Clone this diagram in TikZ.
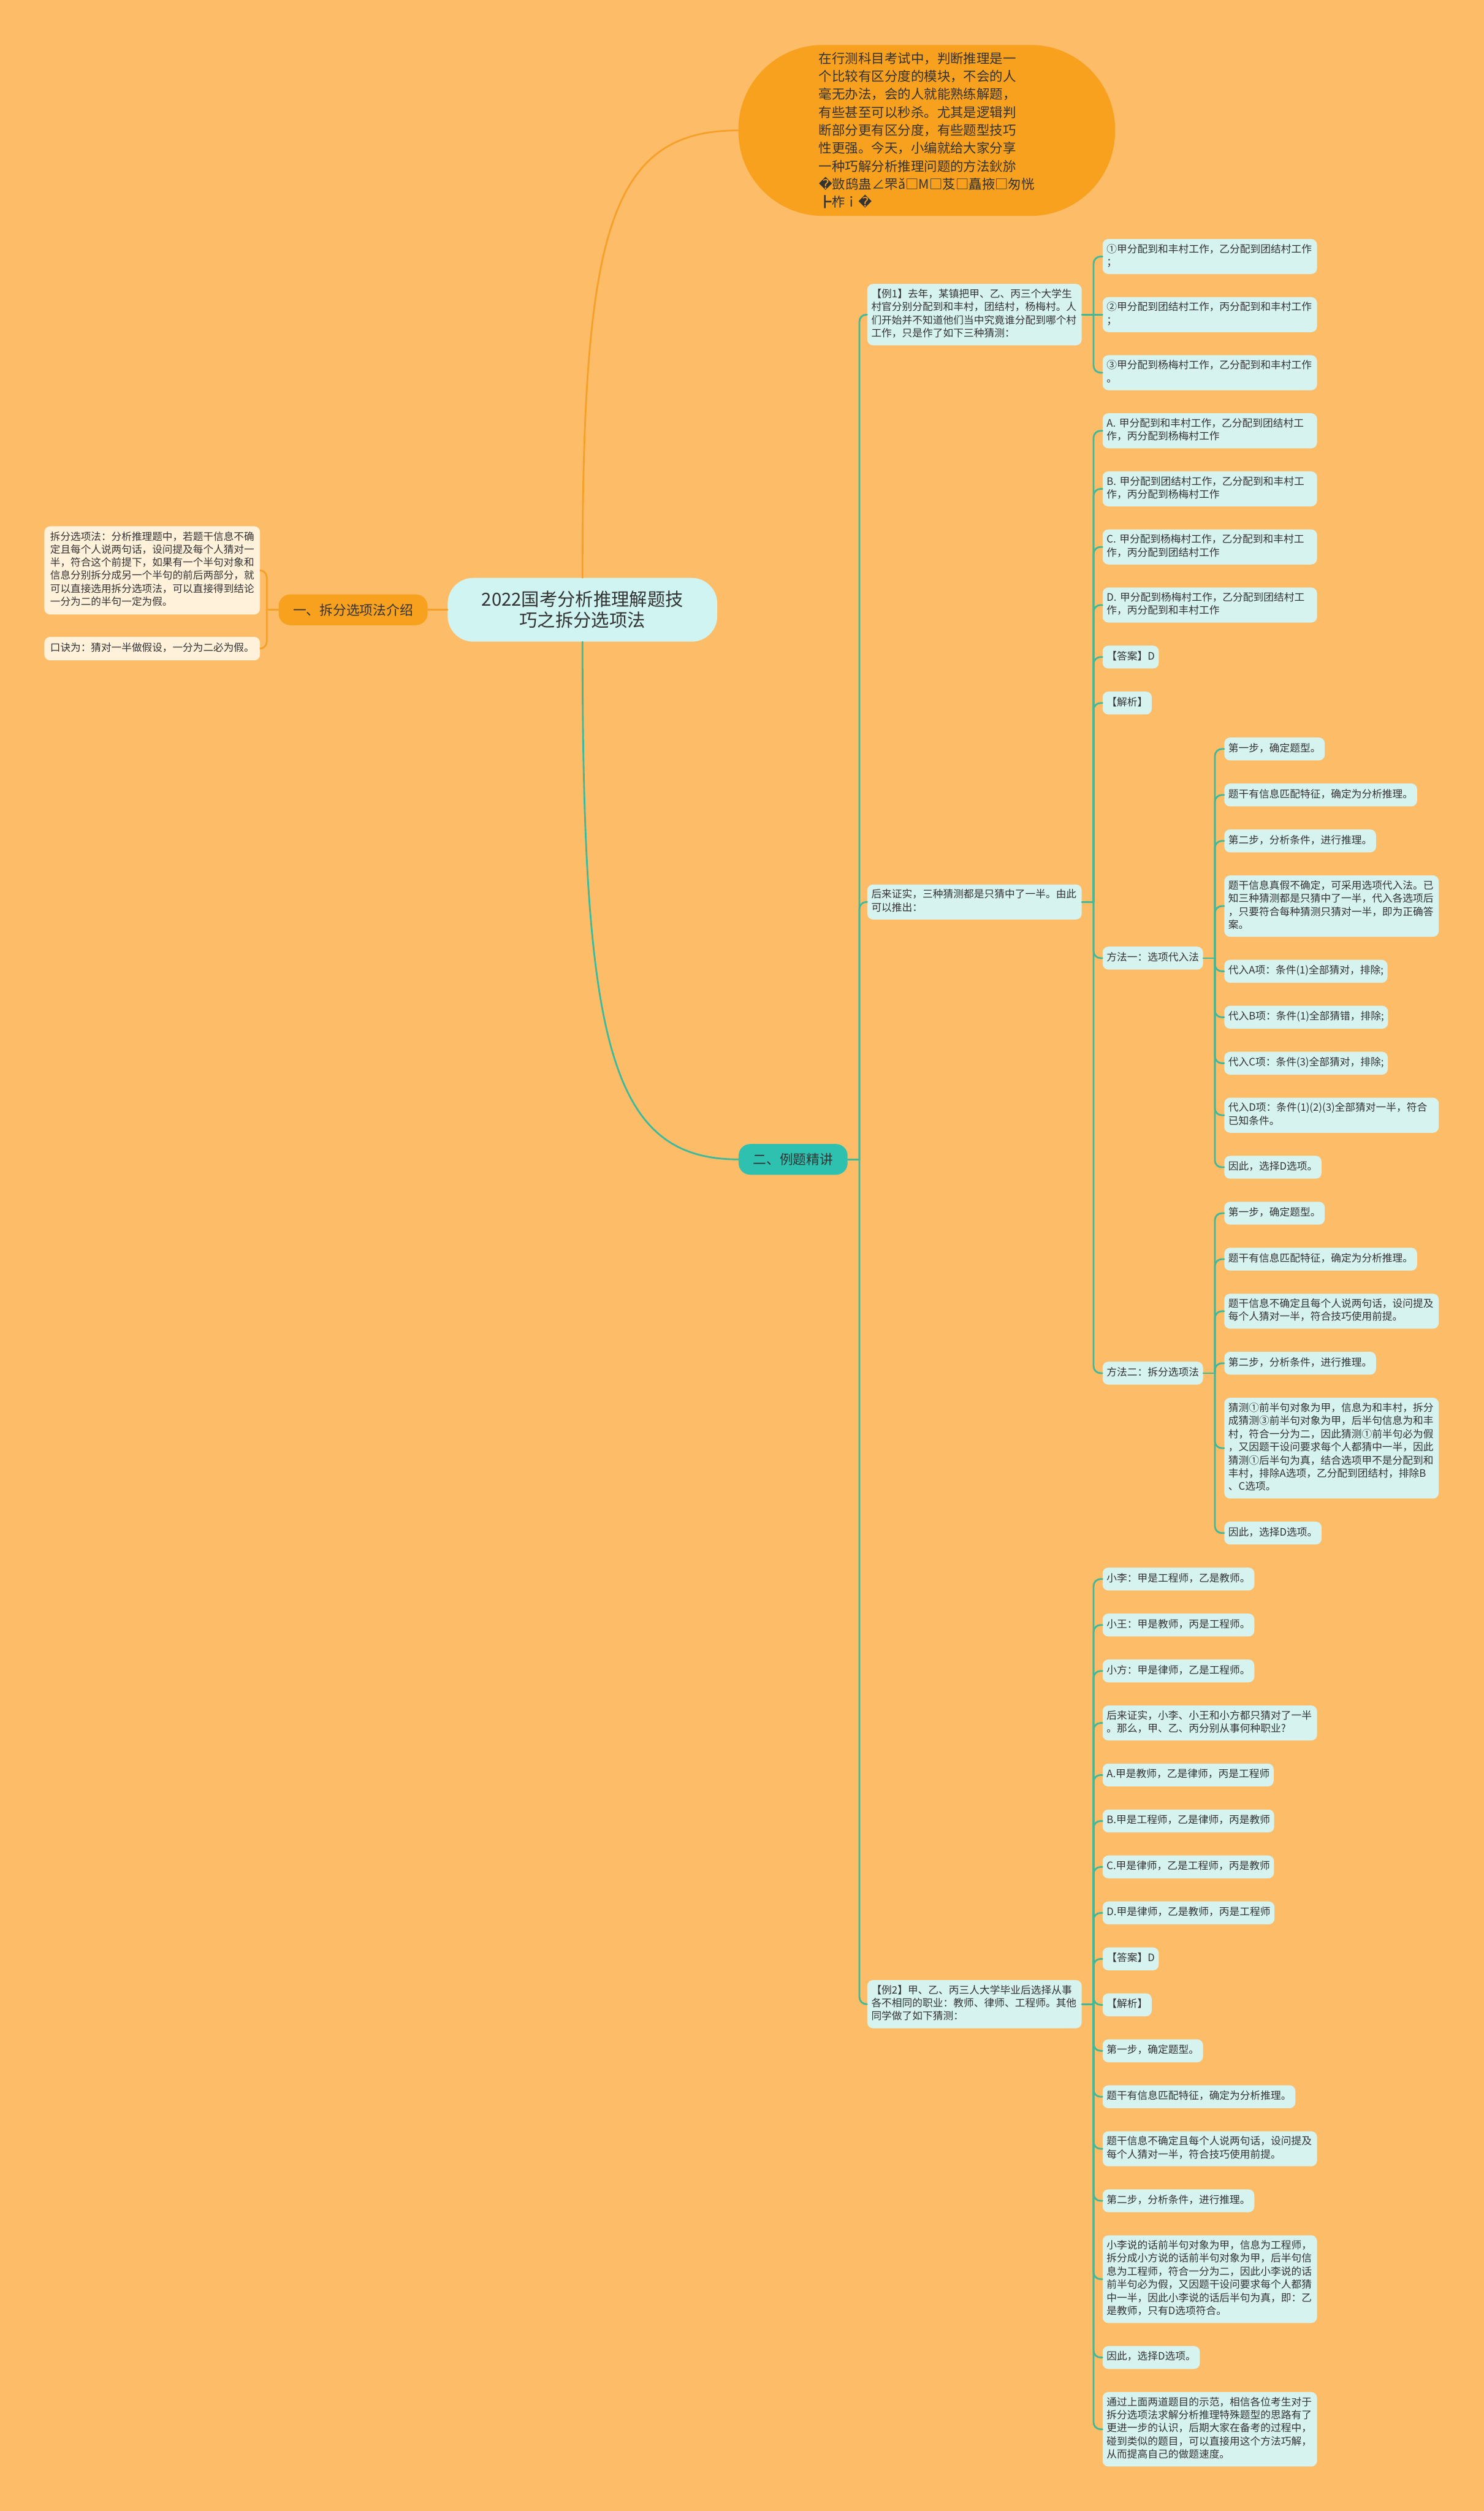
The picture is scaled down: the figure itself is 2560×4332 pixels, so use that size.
\documentclass[tikz,border=0pt]{standalone}
\usepackage{fontspec}
\setmainfont{Noto Sans CJK SC}
\newfontfamily\dejavu{DejaVu Sans}
\usetikzlibrary{positioning,calc}
\definecolor{pagebg}{HTML}{FDBD68}
\definecolor{deeporange}{HTML}{F8A11F}
\definecolor{rootcyan}{HTML}{CFF4F1}
\definecolor{branchteal}{HTML}{2EC1B0}
\definecolor{leafcyan}{HTML}{D6F3F0}
\definecolor{leafcream}{HTML}{FFF1DA}
\definecolor{linkteal}{HTML}{3FB99C}
\definecolor{linkorange}{HTML}{F6A02A}
\definecolor{inkgray}{HTML}{333333}
\newcommand\leafsize{\fontsize{8.85pt}{11.35pt}\selectfont}
\newcommand\notesize{\fontsize{8.8pt}{11.25pt}\selectfont}
\newcommand\branchsize{\fontsize{11.5pt}{14pt}\selectfont}
\newcommand\rootsize{\fontsize{15.5pt}{18pt}\selectfont}
\newcommand\bubblesize{\fontsize{11.35pt}{15.5pt}\selectfont}
\newcommand\badglyph{{\dejavu\char"FFFD}}
\tikzset{
  leafbox/.style={rectangle, rounded corners=5pt, fill=leafcyan, text=inkgray,
    font=\leafsize, align=left, inner xsep=3.5pt, inner ysep=4.2pt,
    execute at begin node=\strut, execute at end node=\strut},
  wrapbox/.style={leafbox, text width=178pt, inner ysep=3.75pt},
  notebox/.style={leafbox, fill=leafcream, font=\notesize,
    inner xsep=5pt, inner ysep=4.5pt},
  stackbelow/.style={below=19.5pt of #1.south west, anchor=north west},
  branchbox/.style={rectangle, rounded corners=10pt, text=inkgray,
    font=\branchsize, inner xsep=12.5pt, minimum height=26.5pt},
  rootbox/.style={rectangle, rounded corners=22pt, fill=rootcyan, text=inkgray,
    font=\rootsize, align=center, minimum width=232.5pt, minimum height=55pt},
  bubblebox/.style={rectangle, rounded corners=73pt, fill=deeporange, text=inkgray,
    font=\bubblesize, align=left, minimum width=325pt, minimum height=147.5pt},
  tealink/.style={draw=linkteal, line width=1.5pt, line cap=round, rounded corners=6pt},
  orangelink/.style={tealink, draw=linkorange},
}

\begin{document}
\begin{tikzpicture}[x=0.5pt, y=-0.5pt]
  \fill[pagebg] (0,0) rectangle (2560,4332);
  \useasboundingbox (0,0) rectangle (2560,4332);
  \coordinate (lvl2) at (1274,0);
  \coordinate (lvl3) at (1496,0);
  \coordinate (col1) at (1902,0);

  % centre, intro bubble and left branch
  \node[rootbox] (root) at (1005,1052) {2022国考分析推理解题技\\巧之拆分选项法};
  \node[bubblebox] (bubble) at (1599,225) {在行测科目考试中，判断推理是一\\个比较有区分度的模块，不会的人\\毫无办法，会的人就能熟练解题，\\有些甚至可以秒杀。尤其是逻辑判\\断部分更有区分度，有些题型技巧\\性更强。今天，小编就给大家分享\\一种巧解分析推理问题的方法鈥旀\\\badglyph 敳鸱蛊∠罘ǎ□M□芨□矗掖□匆恍\\┣柞ｉ\badglyph};
  \node[branchbox, fill=deeporange, left=17pt of root] (br1) {一、拆分选项法介绍};
  \node[notebox, anchor=east] (n1) at (449,984) {拆分选项法：分析推理题中，若题干信息不确\\定且每个人说两句话，设问提及每个人猜对一\\半，符合这个前提下，如果有一个半句对象和\\信息分别拆分成另一个半句的前后两部分，就\\可以直接选用拆分选项法，可以直接得到结论\\一分为二的半句一定为假。};
  \node[notebox, anchor=east] (n2) at (449,1119) {口诀为：猜对一半做假设，一分为二必为假。};

  % example 1
  \node[wrapbox, anchor=north west] (g1) at (1902,412) {①甲分配到和丰村工作，乙分配到团结村工作\\；};
  \node[wrapbox, stackbelow=g1] (g2) {②甲分配到团结村工作，丙分配到和丰村工作\\；};
  \node[wrapbox, stackbelow=g2] (g3) {③甲分配到杨梅村工作，乙分配到和丰村工作\\。};
  \node[wrapbox, stackbelow=g3] (opA) {A. 甲分配到和丰村工作，乙分配到团结村工\\作，丙分配到杨梅村工作};
  \node[wrapbox, stackbelow=opA] (opB) {B. 甲分配到团结村工作，乙分配到和丰村工\\作，丙分配到杨梅村工作};
  \node[wrapbox, stackbelow=opB] (opC) {C. 甲分配到杨梅村工作，乙分配到和丰村工\\作，丙分配到团结村工作};
  \node[wrapbox, stackbelow=opC] (opD) {D. 甲分配到杨梅村工作，乙分配到团结村工\\作，丙分配到和丰村工作};
  \node[leafbox, stackbelow=opD] (ans1) {【答案】D};
  \node[leafbox, stackbelow=ans1] (ana1) {【解析】};

  % method one
  \node[leafbox, stackbelow=ana1, xshift=105pt] (a1) {第一步，确定题型。};
  \node[leafbox, stackbelow=a1] (a2) {题干有信息匹配特征，确定为分析推理。};
  \node[leafbox, stackbelow=a2] (a3) {第二步，分析条件，进行推理。};
  \node[wrapbox, stackbelow=a3] (a4) {题干信息真假不确定，可采用选项代入法。已\\知三种猜测都是只猜中了一半，代入各选项后\\，只要符合每种猜测只猜对一半，即为正确答\\案。};
  \node[leafbox, stackbelow=a4] (a5) {代入A项：条件(1)全部猜对，排除;};
  \node[leafbox, stackbelow=a5] (a6) {代入B项：条件(1)全部猜错，排除;};
  \node[leafbox, stackbelow=a6] (a7) {代入C项：条件(3)全部猜对，排除;};
  \node[wrapbox, stackbelow=a7] (a8) {代入D项：条件(1)(2)(3)全部猜对一半，符合\\已知条件。};
  \node[leafbox, stackbelow=a8] (a9) {因此，选择D选项。};

  % method two
  \node[leafbox, stackbelow=a9] (b1) {第一步，确定题型。};
  \node[leafbox, stackbelow=b1] (b2) {题干有信息匹配特征，确定为分析推理。};
  \node[wrapbox, stackbelow=b2] (b3) {题干信息不确定且每个人说两句话，设问提及\\每个人猜对一半，符合技巧使用前提。};
  \node[leafbox, stackbelow=b3] (b4) {第二步，分析条件，进行推理。};
  \node[wrapbox, stackbelow=b4] (b5) {猜测①前半句对象为甲，信息为和丰村，拆分\\成猜测③前半句对象为甲，后半句信息为和丰\\村，符合一分为二，因此猜测①前半句必为假\\，又因题干设问要求每个人都猜中一半，因此\\猜测①后半句为真，结合选项甲不是分配到和\\丰村，排除A选项，乙分配到团结村，排除B\\、C选项。};
  \node[leafbox, stackbelow=b5] (b6) {因此，选择D选项。};

  % example 2
  \node[leafbox, stackbelow=b6, xshift=-105pt] (c1) {小李：甲是工程师，乙是教师。};
  \node[leafbox, stackbelow=c1] (c2) {小王：甲是教师，丙是工程师。};
  \node[leafbox, stackbelow=c2] (c3) {小方：甲是律师，乙是工程师。};
  \node[wrapbox, stackbelow=c3] (c4) {后来证实，小李、小王和小方都只猜对了一半\\。那么，甲、乙、丙分别从事何种职业?};
  \node[leafbox, stackbelow=c4] (c5) {A.甲是教师，乙是律师，丙是工程师};
  \node[leafbox, stackbelow=c5] (c6) {B.甲是工程师，乙是律师，丙是教师};
  \node[leafbox, stackbelow=c6] (c7) {C.甲是律师，乙是工程师，丙是教师};
  \node[leafbox, stackbelow=c7] (c8) {D.甲是律师，乙是教师，丙是工程师};
  \node[leafbox, stackbelow=c8] (c9) {【答案】D};
  \node[leafbox, stackbelow=c9] (c10) {【解析】};
  \node[leafbox, stackbelow=c10] (c11) {第一步，确定题型。};
  \node[leafbox, stackbelow=c11] (c12) {题干有信息匹配特征，确定为分析推理。};
  \node[wrapbox, stackbelow=c12] (c13) {题干信息不确定且每个人说两句话，设问提及\\每个人猜对一半，符合技巧使用前提。};
  \node[leafbox, stackbelow=c13] (c14) {第二步，分析条件，进行推理。};
  \node[wrapbox, stackbelow=c14] (c15) {小李说的话前半句对象为甲，信息为工程师，\\拆分成小方说的话前半句对象为甲，后半句信\\息为工程师，符合一分为二，因此小李说的话\\前半句必为假，又因题干设问要求每个人都猜\\中一半，因此小李说的话后半句为真，即：乙\\是教师，只有D选项符合。};
  \node[leafbox, stackbelow=c15] (c16) {因此，选择D选项。};
  \node[wrapbox, stackbelow=c16] (c17) {通过上面两道题目的示范，相信各位考生对于\\拆分选项法求解分析推理特殊题型的思路有了\\更进一步的认识，后期大家在备考的过程中，\\碰到类似的题目，可以直接用这个方法巧解，\\从而提高自己的做题速度。};

  % parents, centred on their children
  \node[leafbox, anchor=west] (mA) at ($(col1 |- a1.west)!0.5!(col1 |- a9.west)$) {方法一：选项代入法};
  \node[leafbox, anchor=west] (mB) at ($(col1 |- b1.west)!0.5!(col1 |- b6.west)$) {方法二：拆分选项法};
  \node[wrapbox, anchor=west] (ex1) at ($(lvl3 |- g1.west)!0.5!(lvl3 |- g3.west)$) {【例1】去年，某镇把甲、乙、丙三个大学生\\村官分别分配到和丰村，团结村，杨梅村。人\\们开始并不知道他们当中究竟谁分配到哪个村\\工作，只是作了如下三种猜测：};
  \node[wrapbox, anchor=west] (conf1) at ($(lvl3 |- opA.west)!0.5!(lvl3 |- mB.west)$) {后来证实，三种猜测都是只猜中了一半。由此\\可以推出：};
  \node[wrapbox, anchor=west] (ex2) at ($(lvl3 |- c1.west)!0.5!(lvl3 |- c17.west)$) {【例2】甲、乙、丙三人大学毕业后选择从事\\各不相同的职业：教师、律师、工程师。其他\\同学做了如下猜测：};
  \node[branchbox, fill=branchteal, anchor=west] (br2) at ($(lvl2 |- ex1.west)!0.5!(lvl2 |- ex2.west)$) {二、例题精讲};

  % links
  \draw[orangelink] (root.north) .. controls ($(root.north)!0.77!(root.north |- bubble.west)$) and ($(bubble.west)!0.83!(root.north |- bubble.west)$) .. (bubble.west);
  \draw[tealink] (root.south) .. controls ($(root.south)!0.77!(root.south |- br2.west)$) and ($(br2.west)!0.83!(root.south |- br2.west)$) .. (br2.west);
  \draw[orangelink] (root.west) -- (br1.east);
  \draw[orangelink] (br1.west) -- ++(-10pt,0) coordinate (t6);
  \foreach \c in {n1,n2} \draw[orangelink] (t6) |- (\c.east);

  \draw[tealink] (br2.east) -- ++(10pt,0) coordinate (t0);
  \foreach \c in {ex1,conf1,ex2} \draw[tealink] (t0) |- (\c.west);
  \draw[tealink] (ex1.east) -- ++(10pt,0) coordinate (t1);
  \foreach \c in {g1,g3} \draw[tealink] (t1) |- (\c.west);
  \draw[tealink] (t1) -- (g2.west);
  \draw[tealink] (conf1.east) -- ++(10pt,0) coordinate (t2);
  \foreach \c in {opA,opB,opC,opD,ans1,ana1,mA,mB} \draw[tealink] (t2) |- (\c.west);
  \draw[tealink] (mA.east) -- ++(10pt,0) coordinate (t3);
  \foreach \i in {1,...,9} \draw[tealink] (t3) |- (a\i.west);
  \draw[tealink] (mB.east) -- ++(10pt,0) coordinate (t4);
  \foreach \i in {1,...,6} \draw[tealink] (t4) |- (b\i.west);
  \draw[tealink] (ex2.east) -- ++(10pt,0) coordinate (t5);
  \foreach \i in {1,...,17} \draw[tealink] (t5) |- (c\i.west);
\end{tikzpicture}
\end{document}
